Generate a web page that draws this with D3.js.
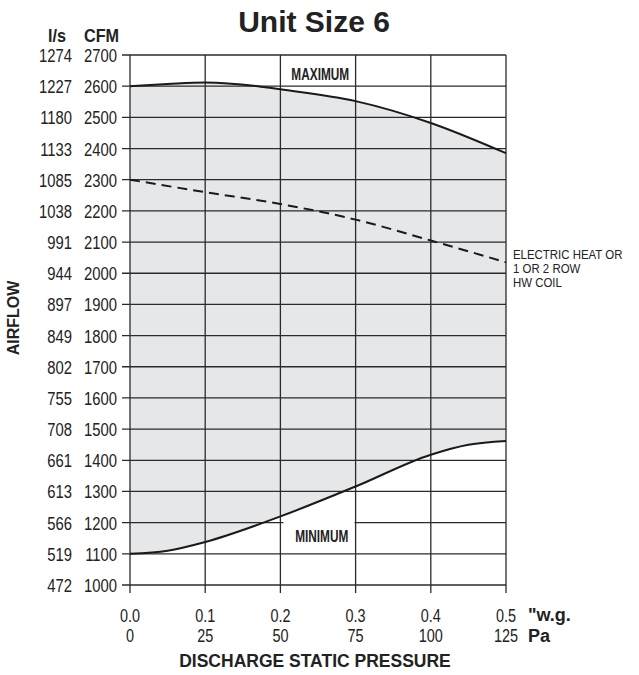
<!DOCTYPE html>
<html>
<head>
<meta charset="utf-8">
<script src="https://cdn.jsdelivr.net/npm/d3@7"></script>
<style>
  body { margin: 0; background: #fff; }
  text { font-family: Arial, "Liberation Sans", Helvetica, sans-serif; fill: #222; }
  .bold { font-weight: bold; }
</style>
</head>
<body>
<div id="chart"></div>
<script>
// data
const cfmTicks = [1000, 1100, 1200, 1300, 1400, 1500, 1600, 1700, 1800, 1900, 2000, 2100, 2200, 2300, 2400, 2500, 2600, 2700];
const lsTicks = [472, 519, 566, 613, 661, 708, 755, 802, 849, 897, 944, 991, 1038, 1085, 1133, 1180, 1227, 1274];
const wgTicks = [0, 0.1, 0.2, 0.3, 0.4, 0.5];
const paTicks = [0, 25, 50, 75, 100, 125];

const maxCurve = [[0, 2600], [0.05, 2607], [0.1, 2612], [0.17, 2600], [0.2, 2590], [0.3, 2552], [0.4, 2482], [0.5, 2385]];
const minCurve = [[0, 1100], [0.05, 1110], [0.1, 1138], [0.2, 1220], [0.3, 1316], [0.4, 1418], [0.45, 1450], [0.5, 1462]];
const heatCurve = [[0, 2300], [0.1, 2260], [0.2, 2222], [0.3, 2172], [0.4, 2105], [0.5, 2035]];
const note = ["ELECTRIC HEAT OR", "1 OR 2 ROW", "HW COIL"];

const W = 639, H = 675;
const x = d3.scaleLinear().domain([0, 0.5]).range([130, 506]);
const y = d3.scaleLinear().domain([1000, 2700]).range([585, 55]);

const svg = d3.select("#chart").append("svg")
  .attr("width", W).attr("height", H);

// condensed text = regular font squeezed sideways
function cond(parent, tx, ty, str, size, anchor, sx, bold) {
  const t = parent.append("text")
    .attr("transform", "translate(" + tx + "," + ty + ") scale(" + (sx || 0.78) + ",1)")
    .attr("font-size", size)
    .attr("text-anchor", anchor || "start")
    .text(str);
  if (bold) t.attr("class", "bold");
  return t;
}

const lineGen = d3.line().x(d => x(d[0])).y(d => y(d[1])).curve(d3.curveMonotoneX);

// shaded operating range between min and max
const topPath = lineGen(maxCurve);
const botPath = lineGen(minCurve.slice().reverse());
svg.append("path")
  .attr("d", topPath + "L" + botPath.slice(1) + "Z")
  .attr("fill", "#e6e7e9");

// grid
const gridColor = "#2b2b2b";
svg.append("g").selectAll("line").data(cfmTicks).enter().append("line")
  .attr("x1", 122).attr("x2", x(0.5))
  .attr("y1", d => y(d)).attr("y2", d => y(d))
  .attr("stroke", gridColor).attr("stroke-width", 1.3);

// white label box for MINIMUM (hides part of the 1200 line)
svg.append("rect").attr("x", x(0.204)).attr("y", y(1203)).attr("width", x(0.3) - x(0.204) - 1).attr("height", y(1104) - y(1203))
  .attr("fill", "#fff");

svg.append("g").selectAll("line").data(wgTicks).enter().append("line")
  .attr("x1", d => x(d)).attr("x2", d => x(d))
  .attr("y1", y(2700)).attr("y2", y(1000) + 8)
  .attr("stroke", gridColor).attr("stroke-width", 1.3);

cond(svg, x(0.253), 80, "MAXIMUM", 16, "middle", 0.74, true);
cond(svg, x(0.255), 542, "MINIMUM", 16, "middle", 0.74, true);

// curves
svg.append("path").attr("d", lineGen(maxCurve)).attr("fill", "none").attr("stroke", "#1a1a1a").attr("stroke-width", 2);
svg.append("path").attr("d", lineGen(minCurve)).attr("fill", "none").attr("stroke", "#1a1a1a").attr("stroke-width", 2);
svg.append("path").attr("d", lineGen(heatCurve)).attr("fill", "none").attr("stroke", "#1a1a1a").attr("stroke-width", 2)
  .attr("stroke-dasharray", "10,6");

// y labels
const yl = svg.append("g");
cfmTicks.forEach((d, i) => {
  cond(yl, 117, y(d) + 7, d, 19, "end");
  cond(yl, 72, y(d) + 7, lsTicks[i], 19, "end");
});

// x labels
const xl = svg.append("g");
wgTicks.forEach((d, i) => {
  cond(xl, x(d), 622, d.toFixed(1), 18.5, "middle");
  cond(xl, x(d), 642, paTicks[i], 18.5, "middle");
});

svg.append("text").attr("class", "bold").attr("x", 528).attr("y", 621).attr("font-size", 18).text('"w.g.');
svg.append("text").attr("class", "bold").attr("x", 528).attr("y", 642).attr("font-size", 18).text("Pa");

// headers
svg.append("text").attr("class", "bold").attr("x", 314).attr("y", 32).attr("text-anchor", "middle")
  .attr("font-size", 30).text("Unit Size 6");
cond(svg, 66, 42, "l/s", 18, "end", 0.9, true);
cond(svg, 119, 42, "CFM", 18, "end", 0.9, true);
svg.append("text").attr("class", "bold").attr("x", 315).attr("y", 667).attr("text-anchor", "middle")
  .attr("font-size", 17.5).text("DISCHARGE STATIC PRESSURE");
svg.append("text").attr("class", "bold").attr("transform", "translate(19,318) rotate(-90)").attr("text-anchor", "middle")
  .attr("font-size", 16).text("AIRFLOW");

// annotation
const ng = svg.append("g");
note.forEach((d, i) => cond(ng, 513, 259 + i * 14, d, 13, "start", 0.88));
</script>
</body>
</html>
